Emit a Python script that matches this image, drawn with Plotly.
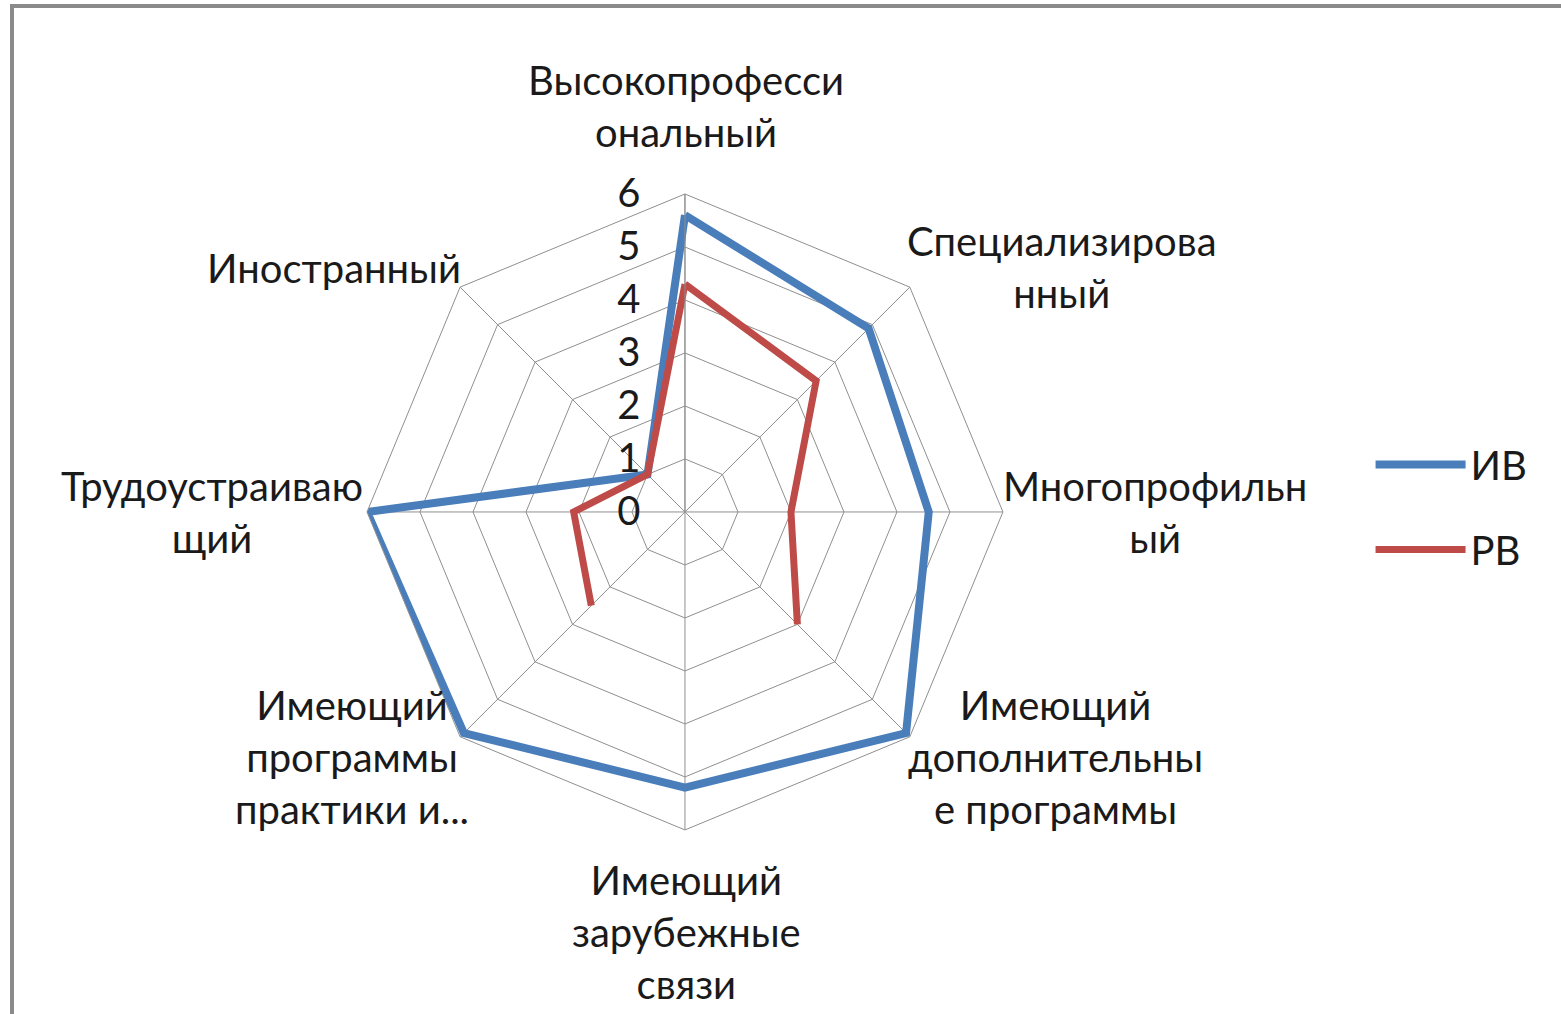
import plotly.graph_objects as go

categories = [
    "Высокопрофессиональный",
    "Специализированный",
    "Многопрофильный",
    "Имеющий дополнительные программы",
    "Имеющий зарубежные связи",
    "Имеющий программы практики и...",
    "Трудоустраивающий",
    "Иностранный",
]
category_labels = [
    "Высокопрофесси<br>ональный",
    "Специализирова<br>нный",
    "Многопрофильн<br>ый",
    "Имеющий<br>дополнительны<br>е программы",
    "Имеющий<br>зарубежные<br>связи",
    "Имеющий<br>программы<br>практики и...",
    "Трудоустраиваю<br>щий",
    "Иностранный",
]
iv_values = [5.6, 4.9, 4.6, 5.9, 5.2, 5.9, 6.0, 1.0]
rv_values = [4.3, 3.5, 2.0, 3.0, None, 2.5, 2.1, 1.0]
series_names = ["ИВ", "РВ"]
colors = ["#4A7EBB", "#BE4B48"]

FONT = "Lato"
W, H = 1561, 1014

fig = go.Figure()
for name, vals, col, w in [(series_names[0], iv_values, colors[0], 8),
                           (series_names[1], rv_values, colors[1], 7)]:
    fig.add_trace(go.Scatterpolar(
        r=vals + [vals[0]],
        theta=categories + [categories[0]],
        mode="lines",
        name=name,
        legendgroup=name,
        line=dict(color=col, width=w),
        connectgaps=False,
    ))

# label anchor positions (pixels) for category labels, layout only
label_px = [(686, 106), (1062, 267), (1155, 512), (1055, 757),
            (686, 932), (352, 757), (212, 512), (334, 268)]
annotations = []
for txt, (px, py) in zip(category_labels, label_px):
    annotations.append(dict(
        text=txt, x=px / W, y=1 - py / H, xref="paper", yref="paper",
        xanchor="center", yanchor="middle", align="center", showarrow=False,
        font=dict(family=FONT, size=40, color="#1a1a1a"),
    ))

grid = "#8f8f8f"
fig.update_layout(
    width=W, height=H,
    margin=dict(l=0, r=0, t=0, b=0),
    paper_bgcolor="white",
    font=dict(family=FONT, size=40, color="#1a1a1a"),
    polar=dict(
        domain=dict(x=[0.2351, 0.6425], y=[0.1815, 0.8087]),
        gridshape="linear",
        bgcolor="white",
        angularaxis=dict(
            rotation=90, direction="clockwise",
            linecolor=grid, linewidth=1,
            gridcolor=grid, gridwidth=1,
            showgrid=True, ticks="", showticklabels=False,
        ),
        radialaxis=dict(
            range=[0, 6], dtick=1, tick0=0,
            angle=90, side="counterclockwise",
            showline=True, linecolor=grid, linewidth=1,
            gridcolor=grid, gridwidth=1,
            ticks="outside", ticklen=30, tickcolor="rgba(0,0,0,0)",
            tickfont=dict(size=40, family=FONT, color="#1a1a1a"),
            tickangle=90,
        ),
    ),
    legend=dict(
        x=0.878, y=0.5, xanchor="left", yanchor="middle",
        font=dict(size=40, family=FONT, color="#1a1a1a"),
        itemwidth=90,
        traceorder="grouped",
        tracegroupgap=30,
        bgcolor="rgba(0,0,0,0)",
    ),
    annotations=annotations,
    shapes=[dict(type="rect", xref="paper", yref="paper",
                 x0=12 / W, x1=1.02, y0=-0.02, y1=1 - 6 / H,
                 line=dict(color="#8a8a8a", width=4), layer="above")],
)

fig.write_html("out.html", config={"displayModeBar": False},
               post_script="document.body.style.margin='0';")
